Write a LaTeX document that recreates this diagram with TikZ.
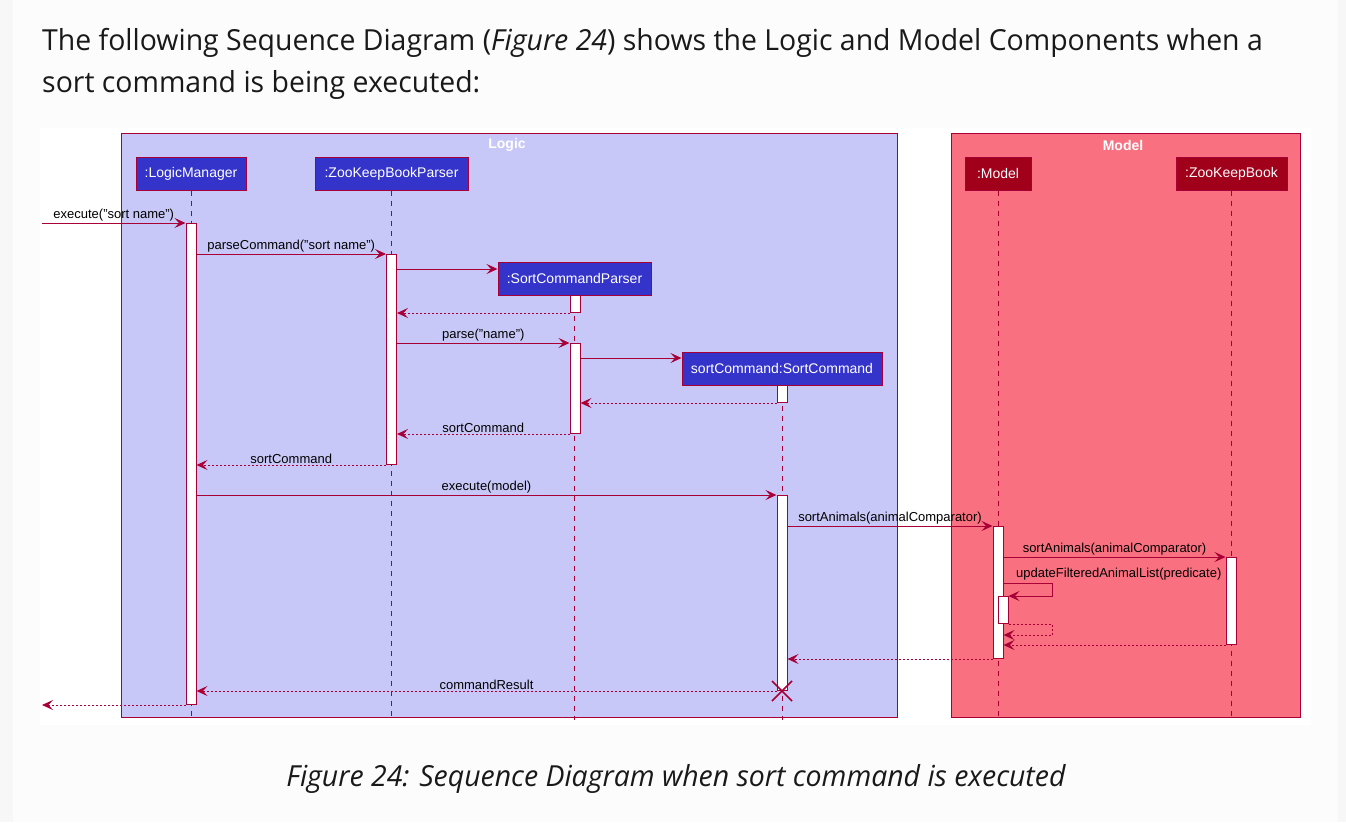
\documentclass[tikz,border=0pt]{standalone}
\usepackage{fontspec}
\setmainfont{Liberation Sans}
\newfontfamily\pagefont[FakeStretch=0.98]{Open Sans}
\usetikzlibrary{arrows.meta, positioning, calc}

\definecolor{umlred}{HTML}{A80036}
\definecolor{logicbg}{RGB}{200,200,248}
\definecolor{logichead}{RGB}{52,52,202}
\definecolor{modelbg}{RGB}{249,113,128}
\definecolor{modelhead}{RGB}{160,0,26}
\definecolor{pagebg}{RGB}{252,252,252}
\definecolor{outerbg}{RGB}{247,247,247}

\begin{document}
\begin{tikzpicture}[x=1pt, y=-1pt,
    msg/.style={-{Stealth[length=11pt, width=10pt, inset=4.5pt]}, umlred, line width=0.9pt},
    ret/.style={msg, dash pattern=on 2pt off 2pt},
    life/.style={umlred, line width=0.8pt, dash pattern=on 5pt off 5pt},
    head/.style={draw=umlred, line width=1pt, fill=logichead, text=white,
                 minimum height=33pt, inner sep=0pt,
                 font=\fontsize{14}{16}\selectfont},
    mhead/.style={head, fill=modelhead},
    act/.style={draw=umlred, line width=1pt, fill=white, minimum width=10pt,
                inner sep=0pt, anchor=north},
    txt/.style={font=\fontsize{13}{15}\selectfont, inner sep=1pt, text=black},
    lbl/.style={txt, above=0pt},
    grp/.style={font=\fontsize{14}{16}\selectfont\bfseries, text=white}]

    \useasboundingbox (0,0) rectangle (1346,822);
    \fill[outerbg] (0,0) rectangle (1346,822);
    \fill[pagebg] (13,0) rectangle (1338,822);
    \fill[white] (40,128) rectangle (1311,725);

    % page text
    \node[anchor=base west, inner sep=0pt, text=black!90,
          font=\pagefont\fontsize{29}{36}\selectfont] (intro1) at (42,50)
      {The following Sequence Diagram ({\itshape Figure 24}) shows the Logic and Model Components when a};
    \node[anchor=base west, inner sep=0pt, text=black!90,
          font=\pagefont\fontsize{29}{36}\selectfont] (intro2) at (42,92)
      {sort command is being executed:};
    \node[anchor=base, inner sep=0pt, text=black!90,
          font=\pagefont\fontsize{29}{36}\selectfont\itshape] (caption) at (676,786)
      {Figure 24: Sequence Diagram when sort command is executed};

    % groups
    \draw[umlred, fill=logicbg, line width=0.8pt] (121,133) rectangle (897,717);
    \draw[umlred, fill=modelbg, line width=0.8pt] (951,133) rectangle (1300,717);
    \node[grp] (logicT) at (507,145) {Logic};
    \node[grp] (modelT) at (1123,145) {Model};

    % participants
    \node[head, minimum width=110pt] (lm) at (191,173.5) {:LogicManager};
    \node[head, minimum width=153pt] (zp) at (391.5,173.5) {:ZooKeepBookParser};
    \node[head, minimum width=153pt] (scp) at (574.5,278.5) {:SortCommandParser};
    \node[head, minimum width=200pt] (sc) at (782,368.5) {sortCommand:SortCommand};
    \node[mhead, minimum width=66pt] (mo) at (998,173.5) {:Model};
    \node[mhead, minimum width=111pt] (zk) at (1231.5,173.5) {:ZooKeepBook};

    \foreach \p in {lm,zp,scp,sc,mo,zk}
      \draw[life] (\p.south) -- (\p.south |- 0,720);

    % activations
    \node[act, minimum height=481pt] (lmA) at (191,223) {};
    \node[act, minimum height=210pt] (zpA) at (391.5,254) {};
    \node[act, minimum height=17pt] (scpA1) at (575,295) {};
    \node[act, minimum height=90pt] (scpA2) at (575,343) {};
    \node[act, minimum height=17pt] (scA1) at (782,385) {};
    \node[act, minimum height=195pt] (scA2) at (782,495) {};
    \node[act, minimum height=132pt] (mA) at (998,526) {};
    \node[act, minimum height=27pt] (mB) at (1003,596) {};
    \node[act, minimum height=87pt] (zkA) at (1231,557) {};

    \coordinate (in) at (42,223);
    \coordinate (selfR) at (1052,583);

    \draw[msg] (in) -- node[lbl]{execute("sort name")} (lmA.north west);
    \draw[msg] (lmA.east |- zpA.north) -- node[lbl]{parseCommand("sort name")} (zpA.north west);
    \draw[msg] (zpA.east |- 0,269) -- (scp.west |- 0,269);
    \draw[ret] (scpA1.south west) -- (zpA.east |- scpA1.south);
    \draw[msg] (zpA.east |- scpA2.north) -- node[lbl]{parse("name")} (scpA2.north west);
    \draw[msg] (scpA2.east |- 0,358) -- (sc.west |- 0,358);
    \draw[ret] (scA1.south west) -- (scpA2.east |- scA1.south);
    \draw[ret] (scpA2.south west) -- node[lbl]{sortCommand} (zpA.east |- scpA2.south);
    \draw[ret] (zpA.south west) -- node[lbl]{sortCommand} (lmA.east |- zpA.south);
    \draw[msg] (lmA.east |- scA2.north) -- node[lbl]{execute(model)} (scA2.north west);
    \draw[msg] (scA2.east |- mA.north) -- node[lbl]{sortAnimals(animalComparator)} (mA.north west);
    \draw[msg] (mA.east |- zkA.north) -- node[lbl]{sortAnimals(animalComparator)} (zkA.north west);

    % self call
    \draw[msg] (mA.east |- selfR) -- (selfR) |- (mB.north east);
    \node[txt, anchor=south west] (selfL) at (1015,581) {updateFilteredAnimalList(predicate)};
    \draw[ret] (mB.south east) -- (selfR |- mB.south) |- (mA.east |- 0,635);

    \draw[ret] (zkA.south west) -- (mA.east |- zkA.south);
    \draw[ret] (mA.south west) -- (scA2.east |- mA.south);
    \draw[ret] (scA2.south west) -- node[lbl]{commandResult} (lmA.east |- scA2.south);
    \draw[umlred, line width=1.5pt] ($(scA2.south)+(-10,-10)$) -- ($(scA2.south)+(10,10)$)
      ($(scA2.south)+(-10,10)$) -- ($(scA2.south)+(10,-10)$);
    \draw[ret] (lmA.south west) -- (in |- lmA.south);
\end{tikzpicture}
\end{document}
